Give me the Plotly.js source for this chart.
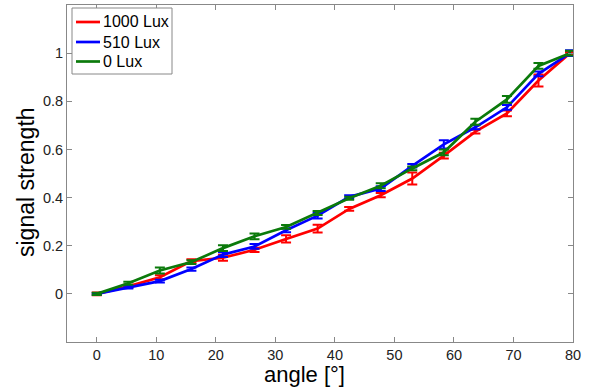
<!DOCTYPE html>
<html>
<head>
<meta charset="utf-8">
<script src="https://cdn.plot.ly/plotly-3.0.1.min.js"></script>
<style>html,body{margin:0;padding:0;background:#fff;}#chart{width:611px;height:389px;}</style>
</head>
<body>
<div id="chart"></div>
<script>
const angles = [0, 5.3, 10.6, 15.9, 21.2, 26.5, 31.8, 37.1, 42.4, 47.7, 53, 58.3, 63.6, 68.9, 74.2, 79.5];

const lux1000 = [0, 0.031, 0.069, 0.136, 0.15, 0.183, 0.228, 0.271, 0.353, 0.41, 0.479, 0.574, 0.674, 0.75, 0.886, 1.0];
const lux1000Err = [0.006, 0.007, 0.008, 0.008, 0.012, 0.009, 0.015, 0.016, 0.008, 0.009, 0.025, 0.012, 0.008, 0.012, 0.025, 0.005];

const lux510 = [0, 0.028, 0.053, 0.103, 0.163, 0.197, 0.264, 0.325, 0.403, 0.4375, 0.532, 0.621, 0.692, 0.775, 0.914, 1.0];
const lux510Err = [0.004, 0.006, 0.006, 0.007, 0.01, 0.01, 0.008, 0.012, 0.007, 0.01, 0.007, 0.017, 0.008, 0.01, 0.01, 0.012];

const lux0 = [0, 0.044, 0.097, 0.132, 0.19, 0.239, 0.278, 0.336, 0.397, 0.449, 0.521, 0.588, 0.715, 0.808, 0.947, 1.0];
const lux0Err = [0.005, 0.006, 0.012, 0.008, 0.012, 0.012, 0.008, 0.008, 0.006, 0.01, 0.008, 0.012, 0.012, 0.014, 0.012, 0.01];

const seriesNames = ['1000 Lux', '510 Lux', '0 Lux'];
const seriesColors = ['#ff0000', '#0000ff', '#0b7a0b'];
const xTicks = [0, 10, 20, 30, 40, 50, 60, 70, 80];
const yTicks = [0, 0.2, 0.4, 0.6, 0.8, 1];
const yTickText = ['0', '0.2', '0.4', '0.6', '0.8', '1'];
const xTitle = 'angle [°]';
const yTitle = 'signal strength';

const FONT = 'Liberation Sans, Arial, sans-serif';

function trace(name, y, err, color) {
  return {
    x: angles, y: y, name: name, type: 'scatter', mode: 'lines',
    line: {color: color, width: 2.7},
    error_y: {type: 'data', array: err, visible: true, color: color, thickness: 2, width: 5}
  };
}

const data = [
  trace(seriesNames[0], lux1000, lux1000Err, seriesColors[0]),
  trace(seriesNames[1], lux510, lux510Err, seriesColors[1]),
  trace(seriesNames[2], lux0, lux0Err, seriesColors[2])
];

// plot area in pixels: x 67..573, y 5..342
const PL = 67, PR = 573, PT = 5, PB = 342;
const px = v => (v - PL) / (PR - PL);
const py = v => (PB - v) / (PB - PT);

const shapes = [
  {type: 'rect', xref: 'paper', yref: 'paper', x0: px(72), x1: px(172), y0: py(74), y1: py(8),
   line: {color: '#888888', width: 1}, fillcolor: '#ffffff', layer: 'above'}
];
const annotations = [];
const rowsY = [22, 42, 61.5];
seriesNames.forEach((n, i) => {
  shapes.push({type: 'line', xref: 'paper', yref: 'paper', x0: px(76), x1: px(100), y0: py(rowsY[i]), y1: py(rowsY[i]),
    line: {color: seriesColors[i], width: 2.7}, layer: 'above'});
  annotations.push({xref: 'paper', yref: 'paper', x: px(101), y: py(rowsY[i]), xanchor: 'left', yanchor: 'middle',
    text: n, showarrow: false, font: {family: FONT, size: 16, color: '#000'}});
});
annotations.push({xref: 'paper', yref: 'paper', x: px(304), y: py(374), xanchor: 'center', yanchor: 'middle',
  text: xTitle, showarrow: false, font: {family: FONT, size: 22, color: '#000'}});
annotations.push({xref: 'paper', yref: 'paper', x: px(26), y: py(182), xanchor: 'center', yanchor: 'middle',
  text: yTitle, textangle: -90, showarrow: false, font: {family: FONT, size: 23, color: '#000'}});

const axisCommon = {
  showgrid: false, zeroline: false, showline: true, mirror: 'ticks',
  linecolor: '#888888', linewidth: 1,
  ticks: 'inside', ticklen: 5, tickcolor: '#888888', tickwidth: 1,
  tickfont: {family: FONT, size: 14.5, color: '#222'}
};

const layout = {
  width: 611, height: 389,
  margin: {l: PL, r: 611 - PR, t: PT, b: 389 - PB},
  paper_bgcolor: '#ffffff', plot_bgcolor: '#ffffff',
  showlegend: false,
  shapes: shapes,
  annotations: annotations,
  xaxis: Object.assign({}, axisCommon, {range: [-5, 80], tickmode: 'array', tickvals: xTicks}),
  yaxis: Object.assign({}, axisCommon, {range: [-0.2, 1.2], tickmode: 'array', tickvals: yTicks, ticktext: yTickText})
};

Plotly.newPlot('chart', data, layout, {displayModeBar: false, staticPlot: true});
</script>
</body>
</html>
